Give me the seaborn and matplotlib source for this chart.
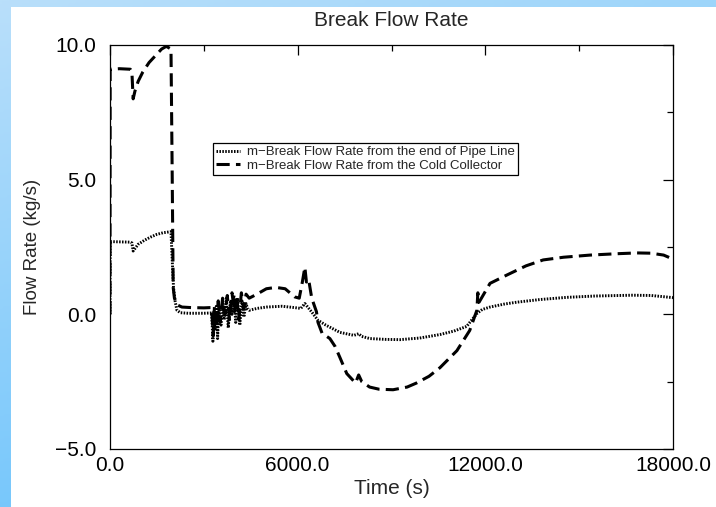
import numpy as np
import pandas as pd
import matplotlib.pyplot as plt
import seaborn as sns
from matplotlib.colors import LinearSegmentedColormap
from matplotlib.patches import Rectangle

# ==========================
# Data
# ==========================

pipe_time = [0, 5, 650, 700, 740, 900, 1100, 1300, 1500, 1700, 1950, 1990, 2030, 2080, 2140,
             2250, 2500, 3000, 3200,
             3250, 3290, 3320, 3360, 3400, 3440, 3480, 3550, 3600, 3650, 3720, 3780, 3850,
             3900, 3960, 4020, 4080, 4150, 4220, 4280, 4350, 4400,
             4450, 4700, 5000, 5500, 5900, 6100, 6230, 6300, 6460, 6650, 6900, 7350, 7800,
             7950, 8050, 8310, 8800, 9270, 9900, 10550, 11000, 11400, 11730, 11900, 12150,
             12600, 13000, 13750, 14600, 15500, 16700, 17300, 18000]
pipe_flow = [0.0, 2.7, 2.68, 2.65, 2.35, 2.6, 2.75, 2.87, 2.97, 3.03, 3.07, 2.0, 1.0, 0.5, 0.15,
             0.06, 0.04, 0.04, 0.05,
             0.05, -1.0, 0.1, -0.6, 0.3, -0.9, 0.2, -0.4, 0.5, -0.2, 0.6, -0.5, 0.5,
             0.0, 0.7, -0.3, 0.6, -0.4, 0.5, -0.1, 0.4, 0.2,
             0.15, 0.22, 0.27, 0.3, 0.25, 0.22, 0.4, 0.3, 0.07, -0.22, -0.4, -0.67, -0.78,
             -0.72, -0.82, -0.9, -0.93, -0.94, -0.88, -0.75, -0.62, -0.45, 0.03, 0.18, 0.27,
             0.38, 0.45, 0.55, 0.63, 0.68, 0.71, 0.7, 0.62]

cold_time = [0, 5, 300, 650, 700, 740, 800, 900, 1050, 1250, 1450, 1650, 1800, 1950, 1990,
             2020, 2060, 2150, 2300, 2600, 3000, 3200,
             3250, 3300, 3340, 3400, 3460, 3520, 3600, 3680, 3750, 3820, 3900, 3980, 4050,
             4120, 4200, 4280, 4350,
             4450, 4700, 5000, 5300, 5600, 5900, 6050, 6150, 6230, 6280, 6350, 6450, 6600,
             6650, 6780, 7030, 7200, 7350, 7570, 7850, 7950, 8050, 8300, 8600, 9050, 9500,
             9800, 10200, 10550, 11090, 11500, 11730, 11760, 11800, 12150, 12690, 13300,
             13850, 14500, 15350, 16200, 16850, 17300, 17700, 18000]
cold_flow = [0.0, 9.1, 9.12, 9.1, 9.0, 8.0, 8.3, 8.65, 9.0, 9.35, 9.6, 9.85, 9.95, 9.85, 5.0,
             1.0, 0.6, 0.35, 0.27, 0.25, 0.24, 0.25,
             0.25, -0.8, 0.3, -0.5, 0.5, -0.3, 0.6, 0.0, 0.7, -0.2, 0.8, 0.1, 0.7,
             -0.2, 0.8, 0.2, 0.75,
             0.6, 0.75, 0.95, 1.0, 0.95, 0.65, 0.6, 1.2, 1.75, 1.2, 1.3, 0.6, 0.1,
             -0.3, -0.7, -0.9, -1.2, -1.6, -2.2, -2.55, -2.25, -2.5, -2.7, -2.78, -2.8, -2.7,
             -2.55, -2.3, -1.98, -1.35, -0.6, 0.15, 0.8, 0.45, 1.15, 1.46, 1.8,
             2.02, 2.12, 2.2, 2.25, 2.28, 2.27, 2.2, 2.05]

pipe_label = "m\u2212Break Flow Rate from the end of Pipe Line"
cold_label = "m\u2212Break Flow Rate from the Cold Collector"

x_ticks = [0, 6000, 12000, 18000]
x_tick_labels = ["0.0", "6000.0", "12000.0", "18000.0"]
y_ticks = [-5, 0, 5, 10]
y_tick_labels = ["\u22125.0", "0.0", "5.0", "10.0"]

pipe_df = pd.DataFrame({"time": pipe_time, "flow": pipe_flow})
cold_df = pd.DataFrame({"time": cold_time, "flow": cold_flow})

# ==========================
# Style
# ==========================

sns.set_style("white")
plt.rcParams["font.family"] = ["Liberation Sans", "DejaVu Sans"]
plt.rcParams["lines.scale_dashes"] = False

fig = plt.figure(figsize=(7.16, 5.07), dpi=100)

# blue scan border behind the white page
bg = fig.add_axes([0, 0, 1, 1], zorder=-10)
grad = np.linspace(0, 1, 200)[:, None] * 0.7 + np.linspace(0, 1, 200)[None, :] * 0.3
cmap = LinearSegmentedColormap.from_list("scan", ["#b9dffa", "#5dbefc"])
bg.imshow(grad, cmap=cmap, aspect="auto", extent=[0, 1, 0, 1], origin="upper")
bg.add_patch(Rectangle((11 / 716, 0), 1, 1 - 7 / 507, facecolor="white",
                       edgecolor="none", transform=bg.transAxes))
bg.set_axis_off()

ax = fig.add_axes([110 / 716, 1 - 449 / 507, 563 / 716, 404 / 507])
ax.set_facecolor("none")

# ==========================
# Lines
# ==========================

sns.lineplot(data=pipe_df, x="time", y="flow", ax=ax, color="black",
             sort=False, estimator=None, linewidth=2.1,
             linestyle=(0, (1.1, 1.0)), label=pipe_label)

sns.lineplot(data=cold_df, x="time", y="flow", ax=ax, color="black",
             sort=False, estimator=None, linewidth=2.2,
             linestyle=(0, (9.5, 4.5)), label=cold_label)

# ==========================
# Axes
# ==========================

ax.set_xlim(0, 18000)
ax.set_ylim(-5, 10)

ax.set_xticks(x_ticks)
ax.set_xticklabels(x_tick_labels)
ax.set_xticks([3000, 9000, 15000], minor=True)
ax.set_yticks(y_ticks)
ax.set_yticklabels(y_tick_labels)
ax.set_yticks([-2.5, 2.5, 7.5], minor=True)

ax.tick_params(which="both", direction="in", top=True, right=True,
               colors="black", width=0.9)
ax.tick_params(which="major", length=7, labelsize=15)
ax.tick_params(which="minor", length=4)
ax.tick_params(axis="x", pad=5)
ax.tick_params(axis="y", pad=10)

for spine in ax.spines.values():
    spine.set_color("black")
    spine.set_linewidth(0.9)

ax.set_xlabel("Time (s)", fontsize=15, labelpad=3)
ax.set_ylabel("Flow Rate (kg/s)", fontsize=13.5, labelpad=10)
ax.set_title("Break Flow Rate", fontsize=15, pad=14)

leg = ax.legend(loc="upper left", bbox_to_anchor=(0.183, 0.758),
                fontsize=9.5, frameon=True, fancybox=False, edgecolor="black",
                framealpha=1, borderpad=0.25, labelspacing=0.1,
                handlelength=1.8, handletextpad=0.5, borderaxespad=0)
leg.get_frame().set_linewidth(0.9)

fig.savefig("out.png", dpi=100)
